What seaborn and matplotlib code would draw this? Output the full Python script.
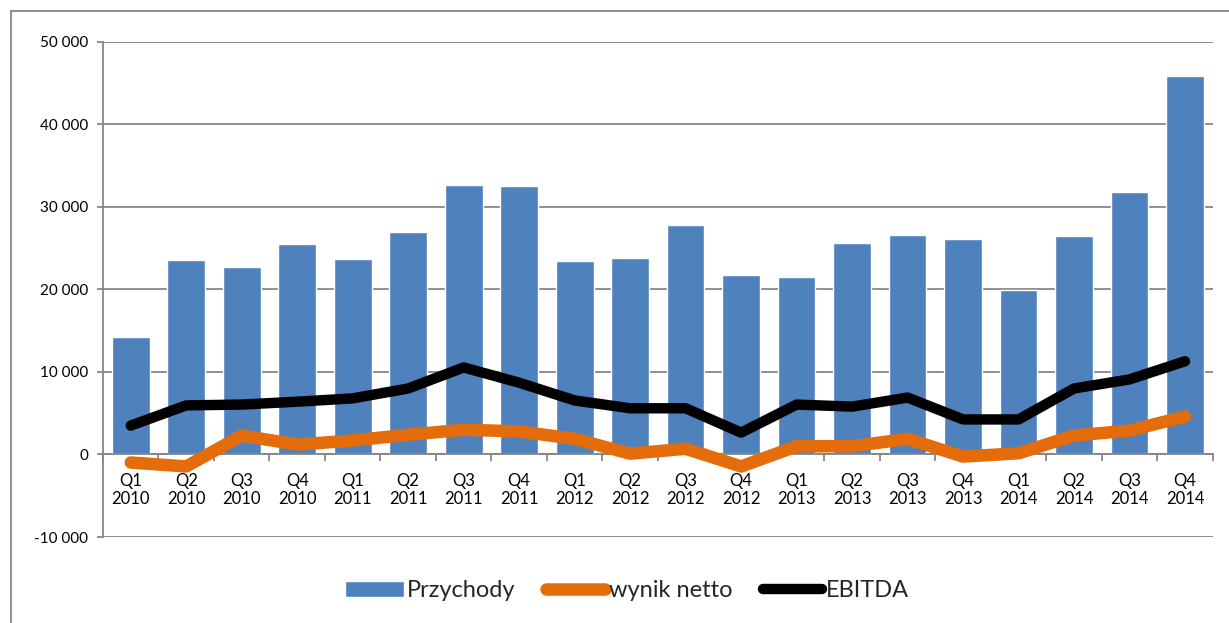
import numpy as np
import pandas as pd
import matplotlib
matplotlib.use("Agg")
import matplotlib.pyplot as plt
from matplotlib.patches import Rectangle
from matplotlib.ticker import FuncFormatter, FixedLocator
import seaborn as sns

quarters = ["Q1", "Q2", "Q3", "Q4"] * 5
years = ["2010"] * 4 + ["2011"] * 4 + ["2012"] * 4 + ["2013"] * 4 + ["2014"] * 4
przychody = [14250, 23600, 22750, 25500, 23650, 27000, 32700, 32550, 23450, 23800,
             27800, 21750, 21500, 25650, 26600, 26150, 19950, 26500, 31800, 45850]
wynik_netto = [-970, -1450, 2300, 1200, 1700, 2400, 3000, 2800, 1900, 100,
               700, -1450, 1000, 1000, 1900, -250, 150, 2300, 2900, 4600]
ebitda = [3500, 5950, 6050, 6400, 6800, 8000, 10550, 8700, 6550, 5600,
          5600, 2650, 6050, 5800, 6900, 4250, 4250, 8000, 9100, 11300]

df = pd.DataFrame({
    "okres": [q + "\n" + y for q, y in zip(quarters, years)],
    "przychody": przychody,
    "netto": wynik_netto,
    "ebitda": ebitda,
})
df["poz"] = np.arange(len(df))

sns.set_style("white")
plt.rcParams["font.family"] = ["Lato", "DejaVu Sans"]

gray = "#868686"
fig = plt.figure(figsize=(12.29, 6.23), dpi=100)
ax = fig.add_axes([0.0838, 0.138, 0.903, 0.7948])

sns.barplot(data=df, x="okres", y="przychody", color="#4F81BD", saturation=1,
            width=0.68, ax=ax, label="Przychody", zorder=2)
sns.lineplot(data=df, x="poz", y="netto", color="#E46C0A", linewidth=9,
             ax=ax, label="wynik netto", solid_capstyle="round",
             solid_joinstyle="round", zorder=3)
sns.lineplot(data=df, x="poz", y="ebitda", color="black", linewidth=7.5,
             ax=ax, label="EBITDA", solid_capstyle="round",
             solid_joinstyle="round", zorder=4)

ax.set_xlim(-0.5, len(df) - 0.5)
ax.set_ylim(-10000, 50000)
ax.set_yticks(range(-10000, 50001, 10000))
ax.yaxis.set_major_formatter(FuncFormatter(lambda v, p: f"{int(v):,}".replace(",", " ")))
ax.set_xticks(df["poz"])
ax.set_xticklabels(df["okres"])
ax.xaxis.set_minor_locator(FixedLocator(np.arange(-0.5, len(df), 1.0)))
ax.set_xlabel("")
ax.set_ylabel("")

ax.set_axisbelow(True)
ax.yaxis.grid(True, color=gray, linewidth=1.3)
ax.xaxis.grid(False)

for s in ["top", "right"]:
    ax.spines[s].set_visible(False)
ax.spines["left"].set_color(gray)
ax.spines["left"].set_linewidth(1.3)
ax.spines["bottom"].set_position(("data", 0))
ax.spines["bottom"].set_color(gray)
ax.spines["bottom"].set_linewidth(1.3)
ax.spines["bottom"].set_zorder(2.5)

ax.tick_params(axis="y", which="major", length=4.5, width=1.3, color=gray,
               direction="out", left=True, labelsize=11, pad=6, labelcolor="black")
ax.tick_params(axis="x", which="major", length=0, labelsize=12, pad=13,
               labelcolor="black")
ax.tick_params(axis="x", which="minor", length=5, width=1.3, color=gray,
               direction="out", bottom=True)
for t in ax.get_xticklabels():
    t.set_linespacing(1.15)

handles, labels = ax.get_legend_handles_labels()
ax.get_legend().remove()
order = [labels.index(n) for n in ["Przychody", "wynik netto", "EBITDA"]]
fig.legend([handles[i] for i in order], [labels[i] for i in order],
           loc="center", bbox_to_anchor=(0.51, 0.052), ncol=3,
           frameon=False, fontsize=17, handlelength=2.5, handletextpad=0.15,
           columnspacing=1.3)

fig.patches.append(Rectangle((11 / 1229, -0.1), 1.2, 1.1 - 11 / 623,
                             transform=fig.transFigure, fill=False,
                             edgecolor=gray, linewidth=1.3))

fig.savefig("out.png", dpi=100)
